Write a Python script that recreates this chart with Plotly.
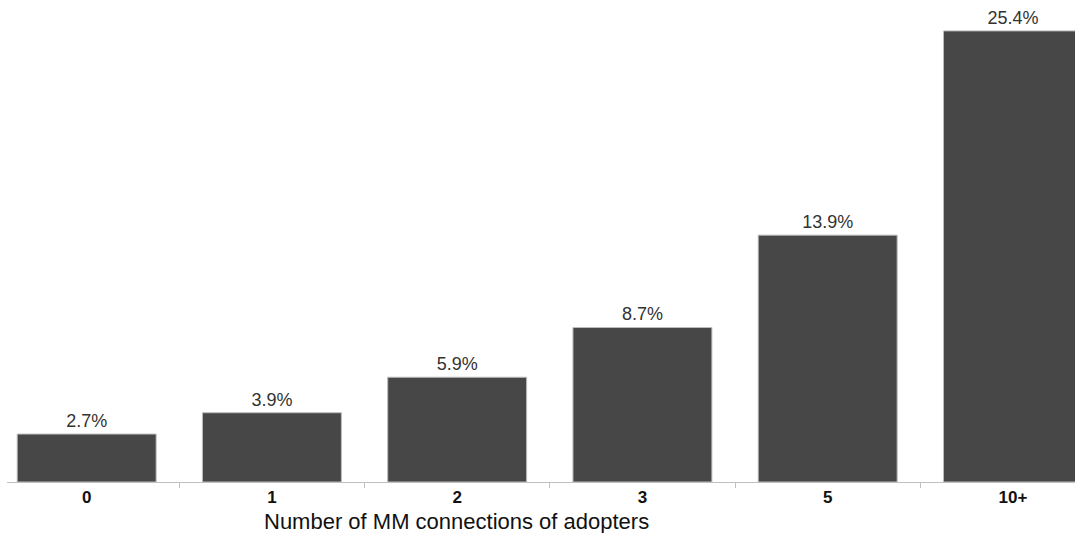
import plotly.graph_objects as go

categories = ["0", "1", "2", "3", "5", "10+"]
adoption_pct = [2.7, 3.9, 5.9, 8.7, 13.9, 25.4]
axis_title = "Number of MM connections of adopters"

fig = go.Figure(
    go.Bar(
        x=categories,
        y=adoption_pct,
        marker=dict(color="#474747", line=dict(color="#bdbdbd", width=1)),
        text=[f"{v:.1f}%" for v in adoption_pct],
        textposition="outside",
        textfont=dict(family="Liberation Sans, Arial", size=18, color="#333333"),
        cliponaxis=False,
    )
)

fig.update_layout(
    width=1075,
    height=533,
    margin=dict(l=7, r=0, t=10, b=51),
    plot_bgcolor="white",
    paper_bgcolor="white",
    bargap=0.25,
    showlegend=False,
    xaxis=dict(
        type="category",
        range=[-0.43, 5.335],
        showline=True,
        linecolor="#c0c0c0",
        linewidth=1,
        ticks="outside",
        tickson="boundaries",
        ticklen=5,
        tickcolor="#c0c0c0",
        ticklabelstandoff=0,
        tickfont=dict(family="Liberation Sans, Arial", size=17, color="#111111", weight="bold"),
        showgrid=False,
    ),
    yaxis=dict(
        range=[0, 472 / 17.76],
        visible=False,
        showgrid=False,
    ),
    annotations=[
        dict(
            text=axis_title,
            xref="paper",
            yref="paper",
            x=(456 - 7) / 1068,
            y=(482 - 521) / 472,
            xanchor="center",
            yanchor="middle",
            showarrow=False,
            font=dict(family="Liberation Sans, Arial", size=22, color="#111111"),
        )
    ],
)

fig.write_html("out.html")
